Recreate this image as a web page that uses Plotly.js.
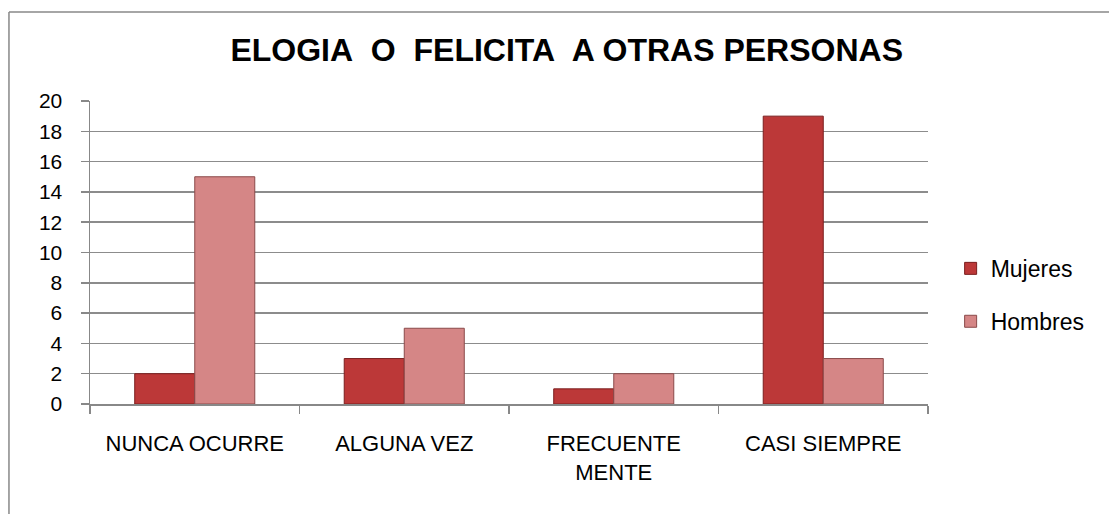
<!DOCTYPE html>
<html>
<head>
<meta charset="utf-8">
<script src="https://cdn.plot.ly/plotly-3.0.1.min.js"></script>
<style>html,body{margin:0;padding:0;background:#fff;}#chart{width:1109px;height:514px;}</style>
</head>
<body>
<div id="chart"></div>
<script>
var categories = ["NUNCA OCURRE", "ALGUNA VEZ", "FRECUENTE<br>MENTE", "CASI SIEMPRE"];
var mujeres = [2, 3, 1, 19];
var hombres = [15, 5, 2, 3];
var seriesNames = ["Mujeres", "Hombres"];
var yTicks = [0, 2, 4, 6, 8, 10, 12, 14, 16, 18, 20];
var titleText = "ELOGIA\u00A0 O\u00A0 FELICITA\u00A0 A OTRAS PERSONAS";

var xFont = {family: "Liberation Sans, Arial, sans-serif", size: 22, color: "#000"};
var yFont = {family: "Liberation Sans, Arial, sans-serif", size: 21, color: "#000"};
var legFont = {family: "Liberation Sans, Arial, sans-serif", size: 23, color: "#000"};

var traces = [
  {type: "bar", name: seriesNames[0], x: categories, y: mujeres, legendgroup: "a",
   marker: {color: "#BC3838", line: {color: "#7A1E1E", width: 1}}},
  {type: "bar", name: seriesNames[1], x: categories, y: hombres, legendgroup: "b",
   marker: {color: "#D58686", line: {color: "#8A4A4A", width: 1}}}
];

var layout = {
  width: 1109, height: 514,
  margin: {l: 90, r: 181, t: 101, b: 110},
  paper_bgcolor: "#fff", plot_bgcolor: "#fff",
  title: {text: "<b>" + titleText + "</b>", x: 0.511, xanchor: "center", y: 0.903, yanchor: "middle",
          font: {family: "Liberation Sans, Arial, sans-serif", size: 32, color: "#000"}},
  barmode: "group", bargap: 0.427, bargroupgap: 0,
  showlegend: true,
  legend: {x: 1.027, xanchor: "left", y: 0.36, yanchor: "middle", tracegroupgap: 20,
           font: legFont, bgcolor: "rgba(0,0,0,0)"},
  xaxis: {type: "category", tickfont: xFont, showgrid: false, showline: true, linecolor: "#888", linewidth: 1.5,
          ticks: "outside", tickson: "boundaries", ticklen: 8, tickcolor: "#888", tickwidth: 1.5,
          ticklabelstandoff: 19, fixedrange: true},
  yaxis: {range: [0, 20], tickvals: yTicks, ticktext: yTicks.map(String), tickfont: yFont,
          showgrid: true, gridcolor: "#8C8C8C", gridwidth: 1.5, showline: true, linecolor: "#888", linewidth: 1.5,
          ticks: "outside", ticklen: 8, tickcolor: "#888", tickwidth: 1.5, zeroline: false,
          ticklabelstandoff: 14, fixedrange: true},
  shapes: [
    {type: "line", xref: "paper", yref: "paper", x0: -0.0967, x1: -0.0967, y0: -0.4, y1: 1.2937, line: {color: "#888", width: 1.5}},
    {type: "line", xref: "paper", yref: "paper", x0: -0.0967, x1: 1.25, y0: 1.2937, y1: 1.2937, line: {color: "#888", width: 1.5}}
  ]
};

Plotly.newPlot("chart", traces, layout, {displayModeBar: false, staticPlot: true});
</script>
</body>
</html>
